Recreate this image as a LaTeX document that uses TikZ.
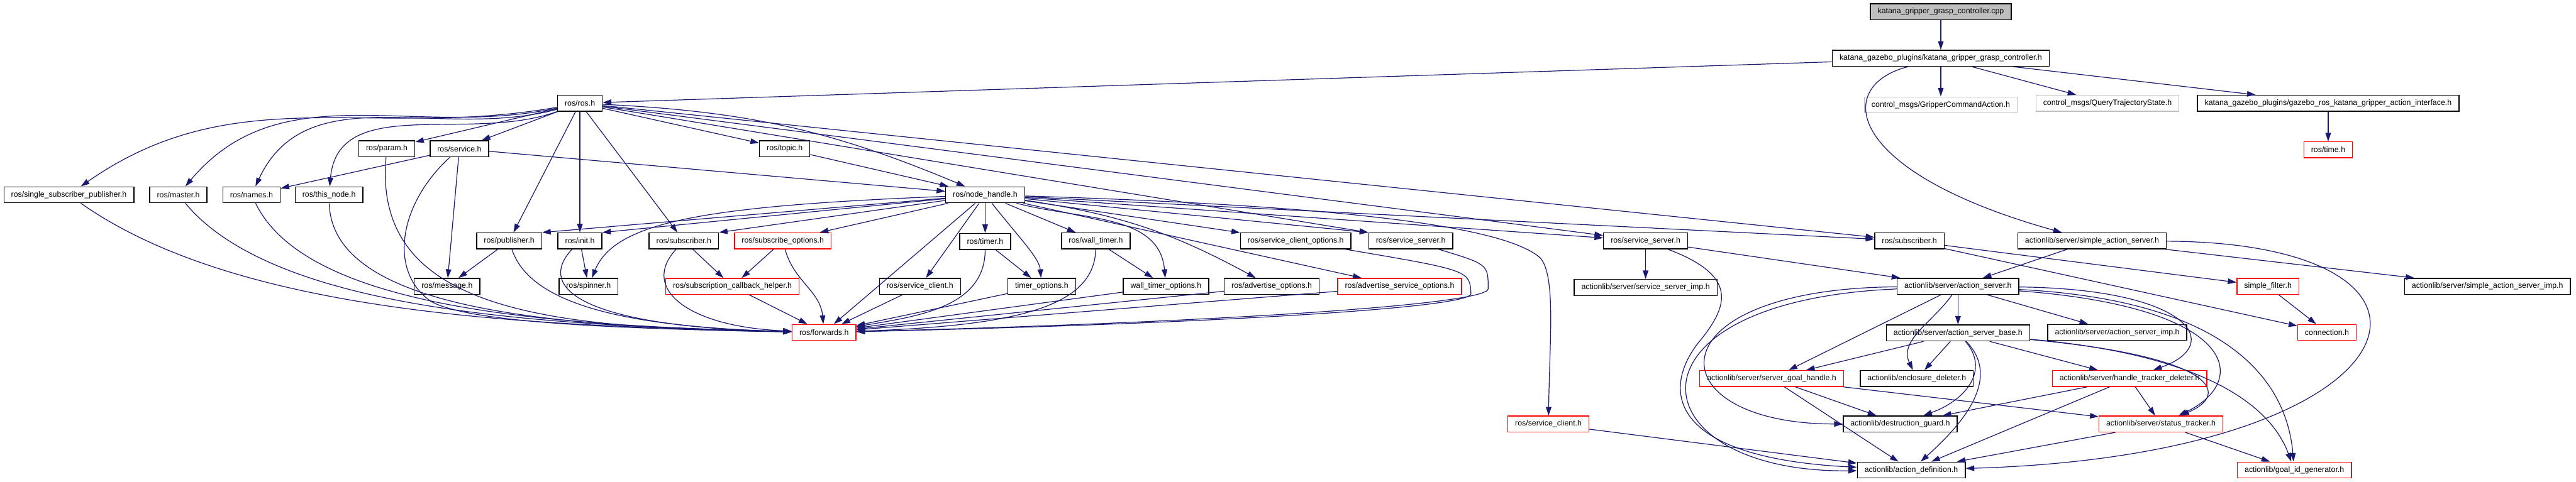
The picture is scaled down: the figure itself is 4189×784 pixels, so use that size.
\documentclass[tikz,border=0pt]{standalone}
\usepackage{fontspec}
\newfontfamily\doxsans{Liberation Sans}
\usepackage{tikz}
\usetikzlibrary{arrows.meta,positioning}
\definecolor{edgeblue}{HTML}{191970}
\definecolor{doxgray}{HTML}{BFBFBF}

\begin{document}
\begin{tikzpicture}[x=0.02cm,y=-0.02cm,
  node distance=0.97cm,
  file/.style={draw,fill=white,line width=0.8pt,inner xsep=0.236cm,inner ysep=0pt,minimum height=0.52cm,font=\doxsans\fontsize{7.2}{8.6}\selectfont},
  trunc/.style={file,draw=red},
  extf/.style={file,draw=doxgray},
  rootf/.style={file,fill=doxgray},
  arr/.style={-{Triangle[length=0.28cm,width=0.18cm]},draw=edgeblue,line width=0.7pt}
]
\useasboundingbox (0,0) rectangle (4189,784);
\node[rootf] (cpp) at (3156,19) {katana\_gripper\_grasp\_controller.cpp};
\node[file,below=of cpp] (kggc) {katana\_gazebo\_plugins/katana\_gripper\_grasp\_controller.h};
\node[file] (rosh) at (943,168) {ros/ros.h};
\node[extf,below=of kggc] (gca) {control\_msgs/GripperCommandAction.h};
\node[extf] (qts) at (3427,168) {control\_msgs/QueryTrajectoryState.h};
\node[file] (gri) at (3786,168) {katana\_gazebo\_plugins/gazebo\_ros\_katana\_gripper\_action\_interface.h};
\node[trunc,below=of gri] (time) {ros/time.h};
\node[file] (param) at (629,242) {ros/param.h};
\node[file] (service) at (747,242) {ros/service.h};
\node[file] (topic) at (1276,242) {ros/topic.h};
\node[file] (ssp) at (112,317) {ros/single\_subscriber\_publisher.h};
\node[file] (master) at (290,317) {ros/master.h};
\node[file] (names) at (409,317) {ros/names.h};
\node[file] (thisnode) at (535,317) {ros/this\_node.h};
\node[file] (nh) at (1602,317) {ros/node\_handle.h};
\node[file] (pub) at (828,392) {ros/publisher.h};
\node[file] (init) at (943,392) {ros/init.h};
\node[file] (sub) at (1112,392) {ros/subscriber.h};
\node[trunc] (subopt) at (1273,392) {ros/subscribe\_options.h};
\node[file,below=of nh] (timer) {ros/timer.h};
\node[file] (wtimer) at (1782,392) {ros/wall\_timer.h};
\node[file] (scopt) at (2107,392) {ros/service\_client\_options.h};
\node[file] (ssrv) at (2294,392) {ros/service\_server.h};
\node[file] (ssrv2) at (2676,392) {ros/service\_server.h};
\node[file] (sub2) at (3105,392) {ros/subscriber.h};
\node[file] (sas) at (3402,392) {actionlib/server/simple\_action\_server.h};
\node[file] (msg) at (727,466) {ros/message.h};
\node[file] (spinner) at (957,466) {ros/spinner.h};
\node[trunc] (sch) at (1191,466) {ros/subscription\_callback\_helper.h};
\node[file] (sclient) at (1496,466) {ros/service\_client.h};
\node[file] (topt) at (1694,466) {timer\_options.h};
\node[file] (wtopt) at (1896,466) {wall\_timer\_options.h};
\node[file] (advopt) at (2068,466) {ros/advertise\_options.h};
\node[trunc] (asopt) at (2276,466) {ros/advertise\_service\_options.h};
\node[file,below=of ssrv2] (ssimp) {actionlib/server/service\_server\_imp.h};
\node[file] (as) at (3184,466) {actionlib/server/action\_server.h};
\node[trunc] (sfilter) at (3688,466) {simple\_filter.h};
\node[file] (sasimp) at (4045,466) {actionlib/server/simple\_action\_server\_imp.h};
\node[trunc] (fwd) at (1340,541) {ros/forwards.h};
\node[file,below=of as] (asb) {actionlib/server/action\_server\_base.h};
\node[file] (asimp) at (3443,541) {actionlib/server/action\_server\_imp.h};
\node[trunc] (conn) at (3784,541) {connection.h};
\node[trunc] (sgh) at (2881,616) {actionlib/server/server\_goal\_handle.h};
\node[file] (encl) at (3117,616) {actionlib/enclosure\_deleter.h};
\node[trunc] (htd) at (3463,616) {actionlib/server/handle\_tracker\_deleter.h};
\node[trunc] (sclient2) at (2518,690) {ros/service\_client.h};
\node[file] (dguard) at (3090,690) {actionlib/destruction\_guard.h};
\node[trunc] (stracker) at (3514,690) {actionlib/server/status\_tracker.h};
\node[file] (adef) at (3108,765) {actionlib/action\_definition.h};
\node[trunc] (gidgen) at (3731,765) {actionlib/goal\_id\_generator.h};
\draw[arr] (cpp)--(kggc);
\draw[arr] (kggc)--(rosh);
\draw[arr] (kggc)--(gca);
\draw[arr] (kggc)--(qts);
\draw[arr] (kggc)--(gri);
\draw[arr] (kggc) .. controls (2980,140) and (3000,280) .. (sas);
\draw[arr] (gri)--(time);
\draw[arr] (rosh) to[out=190,in=35] (ssp);
\draw[arr] (rosh) to[out=192,in=50] (master);
\draw[arr] (rosh) to[out=195,in=65] (names);
\draw[arr] (rosh) to[out=200,in=85] (thisnode);
\draw[arr] (rosh)--(param);
\draw[arr] (rosh)--(service);
\draw[arr] (rosh)--(pub);
\draw[arr] (rosh)--(init);
\draw[arr] (rosh)--(sub);
\draw[arr] (rosh)--(topic);
\draw[arr] (rosh) to[bend left=10] (nh);
\draw[arr] (rosh)--(ssrv.north west);
\draw[arr] (rosh)--(ssrv2);
\draw[arr] (rosh)--(sub2);
\draw[arr] (service)--(names);
\draw[arr] (service)--(msg);
\draw[arr] (service)--(nh);
\draw[arr] (topic)--(nh);
\draw[arr] (service) .. controls (650,330) and (630,440) .. (700,490) .. controls (760,525) and (1000,535) .. (fwd);
\draw[arr] (ssp) .. controls (400,520) and (900,530) .. (fwd);
\draw[arr] (master) .. controls (450,510) and (900,530) .. (fwd);
\draw[arr] (names) .. controls (500,505) and (900,530) .. (fwd);
\draw[arr] (thisnode) .. controls (540,505) and (900,532) .. (fwd);
\draw[arr] (param) .. controls (605,510) and (900,534) .. (fwd);
\draw[arr] (pub) .. controls (860,490) and (1000,532) .. (fwd);
\draw[arr] (init) .. controls (870,470) and (950,532) .. (fwd);
\draw[arr] (sub) .. controls (1040,470) and (1120,532) .. (fwd);
\draw[arr] (pub)--(msg);
\draw[arr] (init)--(spinner);
\draw[arr] (sub)--(sch);
\draw[arr] (subopt)--(sch);
\draw[arr] (subopt) to[out=-75,in=95] (fwd);
\draw[arr] (sch)--(fwd);
\draw[arr] (nh)--(pub.north east);
\draw[arr] (nh)--(init.north east);
\draw[arr] (nh) .. controls (1150,335) and (1000,360) .. (spinner);
\draw[arr] (nh)--(sub.north east);
\draw[arr] (nh)--(subopt);
\draw[arr] (nh)--(fwd);
\draw[arr] (nh)--(sclient);
\draw[arr] (nh)--(timer);
\draw[arr] (nh) .. controls (1660,390) and (1690,420) .. (topt);
\draw[arr] (nh)--(wtimer);
\draw[arr] (nh) to[out=-15,in=95] (wtopt);
\draw[arr] (nh) to[bend left=10] (advopt);
\draw[arr] (nh)--(asopt);
\draw[arr] (nh)--(scopt);
\draw[arr] (nh)--(ssrv.north west);
\draw[arr] (nh)--(ssrv2);
\draw[arr] (nh)--(sub2);
\draw[arr] (nh) .. controls (2200,335) and (2450,370) .. (2505,420) .. controls (2530,450) and (2520,550) .. (sclient2);
\draw[arr] (sclient)--(fwd);
\draw[arr] (timer)--(topt);
\draw[arr] (timer) to[out=-90,in=10] (fwd);
\draw[arr] (topt)--(fwd);
\draw[arr] (wtimer)--(wtopt);
\draw[arr] (wtimer) .. controls (1780,500) and (1650,530) .. (fwd);
\draw[arr] (wtopt)--(fwd);
\draw[arr] (advopt)--(fwd);
\draw[arr] (asopt)--(fwd);
\draw[arr] (scopt) .. controls (2390,440) .. (2392,478) .. controls (2394,500) and (2000,526) .. (fwd);
\draw[arr] (ssrv) .. controls (2420,430) .. (2420,470) .. controls (2420,495) and (2000,524) .. (fwd);
\draw[arr] (ssrv2)--(ssimp);
\draw[arr] (ssrv2)--(as);
\draw[arr] (ssrv2) .. controls (2830,450) and (2810,500) .. (2760,560) .. controls (2700,640) and (2720,745) .. (adef);
\draw[arr] (sub2)--(sfilter);
\draw[arr] (sub2)--(conn);
\draw[arr] (sfilter)--(conn);
\draw[arr] (sas)--(as);
\draw[arr] (sas)--(sasimp);
\draw[arr] (sas) .. controls (4050,395) and (3950,740) .. (adef);
\draw[arr] (as)--(asb);
\draw[arr] (as)--(asimp);
\draw[arr] (as)--(sgh);
\draw[arr] (as) to[out=-125,in=115] (encl);
\draw[arr] (as) .. controls (3560,470) and (3620,560) .. (htd);
\draw[arr] (as) .. controls (3640,500) and (3660,620) .. (stracker);
\draw[arr] (as) .. controls (3650,490) and (3720,640) .. (gidgen);
\draw[arr] (as) .. controls (2680,470) and (2690,690) .. (dguard);
\draw[arr] (as) .. controls (2620,490) and (2660,770) .. (adef);
\draw[arr] (asb)--(sgh);
\draw[arr] (asb)--(encl);
\draw[arr] (asb)--(htd);
\draw[arr] (asb) .. controls (3235,600) and (3200,650) .. (dguard);
\draw[arr] (asb) .. controls (3260,620) and (3180,700) .. (adef);
\draw[arr] (asb) .. controls (3600,580) and (3630,640) .. (stracker);
\draw[arr] (asb) .. controls (3620,580) and (3700,680) .. (gidgen);
\draw[arr] (sgh)--(dguard);
\draw[arr] (sgh)--(adef);
\draw[arr] (sgh)--(stracker);
\draw[arr] (htd)--(dguard);
\draw[arr] (htd)--(adef);
\draw[arr] (htd)--(stracker);
\draw[arr] (stracker)--(adef);
\draw[arr] (stracker)--(gidgen);
\draw[arr] (sclient2)--(adef);
\end{tikzpicture}
\end{document}
